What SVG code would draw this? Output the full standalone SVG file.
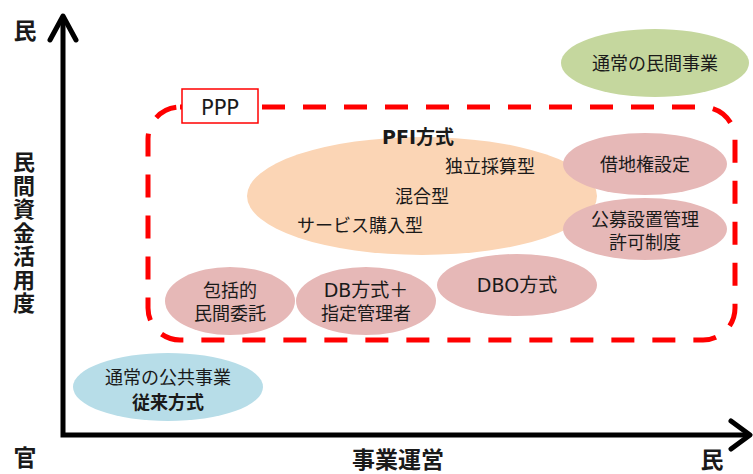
<svg xmlns="http://www.w3.org/2000/svg" width="753" height="474" viewBox="0 0 753 474">
<style>
text{font-family:"DejaVu Sans","Noto Sans CJK JP",sans-serif;fill:#1a1a1a;text-anchor:middle}
.ax{font-size:23px;font-weight:bold}
.n{font-size:18px}
.b{font-weight:bold}
.pink{fill:#e6b8b7}
.axis{stroke:#000;stroke-width:5;fill:none}
</style>
<rect width="753" height="474" fill="#fff"/>
<g id="axes">
<path class="axis" d="M63 18 V435 H748"/>
<path class="axis" d="M50 40 L63 16 L76 40" stroke-linecap="round" stroke-linejoin="round"/>
<path class="axis" d="M731 421 L750 435 L731 449" stroke-linecap="round" stroke-linejoin="round"/>
<text class="ax" x="25" y="39">民</text>
<text class="ax" x="25" y="466">官</text>
<text class="ax" x="398" y="468">事業運営</text>
<text class="ax" x="712" y="468">民</text>
<text class="ax" x="24" y="170" style="font-size:22px">民<tspan x="24" dy="23.5">間</tspan><tspan x="24" dy="23.5">資</tspan><tspan x="24" dy="23.5">金</tspan><tspan x="24" dy="23.5">活</tspan><tspan x="24" dy="23.5">用</tspan><tspan x="24" dy="23.5">度</tspan></text>
</g>
<g id="ppp">
<rect x="148" y="107" width="587" height="233" rx="32" fill="none" stroke="#ff0000" stroke-width="5" stroke-dasharray="23 18"/>
<rect x="182" y="89" width="76" height="34" fill="#fff" stroke="#ff0000" stroke-width="1.5"/>
<text x="220" y="115" style="font-size:21px">PPP</text>
</g>
<g id="private">
<ellipse cx="655" cy="63" rx="94" ry="34" fill="#c5d79e"/>
<text class="n" x="655" y="70">通常の民間事業</text>
</g>
<g id="pfi">
<ellipse cx="422" cy="196" rx="175" ry="59" fill="#fbd5b5"/>
<text class="n b" x="418" y="144" style="font-size:19px">PFI方式</text>
<text class="n" x="490" y="173">独立採算型</text>
<text class="n" x="422" y="203">混合型</text>
<text class="n" x="360" y="232">サービス購入型</text>
</g>
<g id="shakuchi">
<ellipse class="pink" cx="645" cy="164" rx="82" ry="31"/>
<text class="n" x="645" y="171">借地権設定</text>
</g>
<g id="koubo">
<ellipse class="pink" cx="645" cy="229" rx="82" ry="31"/>
<text class="n" x="645" y="226">公募設置管理</text>
<text class="n" x="645" y="249">許可制度</text>
</g>
<g id="dbo">
<ellipse class="pink" cx="517" cy="285" rx="80" ry="31"/>
<text class="n" x="517" y="292" style="font-size:19px">DBO方式</text>
</g>
<g id="houkatsu">
<ellipse class="pink" cx="230" cy="301" rx="65" ry="34"/>
<text class="n" x="230" y="297">包括的</text>
<text class="n" x="230" y="320">民間委託</text>
</g>
<g id="db">
<ellipse class="pink" cx="366" cy="301" rx="70" ry="34"/>
<text class="n" x="366" y="297" style="font-size:19px">DB方式＋</text>
<text class="n" x="366" y="320">指定管理者</text>
</g>
<g id="public">
<ellipse cx="168" cy="387" rx="95" ry="34" fill="#b7dde8"/>
<text class="n" x="168" y="384">通常の公共事業</text>
<text class="n b" x="168" y="409">従来方式</text>
</g>
<g id="connectors"></g>
</svg>
